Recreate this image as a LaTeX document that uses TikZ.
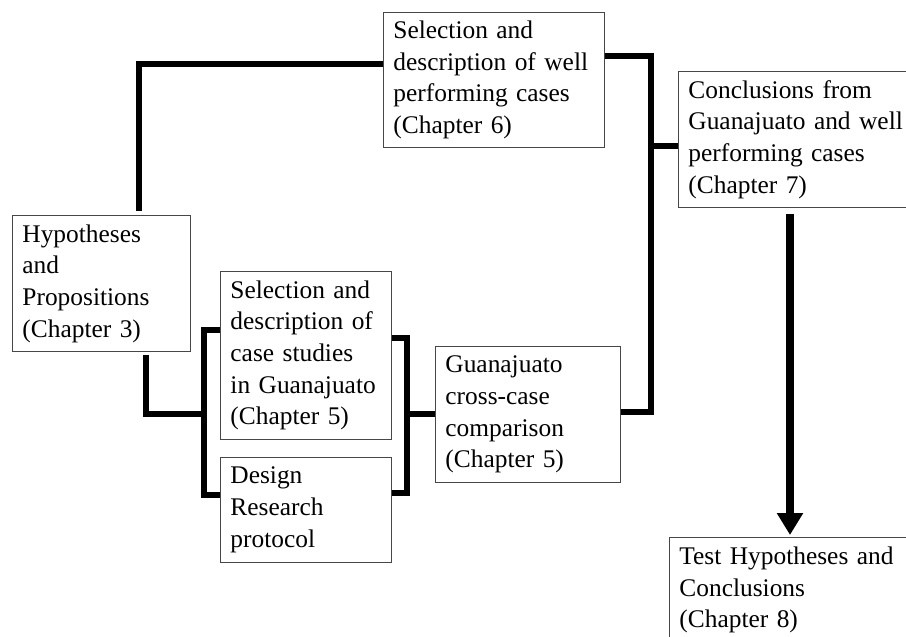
\documentclass[tikz,border=0pt]{standalone}
\usepackage{fontspec}
\setmainfont{Liberation Serif}
\usetikzlibrary{calc,arrows.meta}

\tikzset{
  box/.style={draw=black!72, line width=0.9pt, anchor=north west,
    inner xsep=10pt, inner ysep=3pt, align=left,
    font=\fontsize{25.4}{31.7}\selectfont},
  conn/.style={line width=5.6pt, line cap=butt, line join=miter, black},
  arr/.style={line width=8.5pt, black,
    -{Triangle[width=25pt,length=22pt]}},
}

\begin{document}
\begin{tikzpicture}[x=1pt,y=-1pt]
\useasboundingbox (0,0) rectangle (906,637);
\clip (0,0) rectangle (906,637);
\fill[white] (0,0) rectangle (906,637);

% boxes (position = top-left corner)
\node[box, text width=158pt, minimum height=136pt] (hyp) at (12,215)
  {Hypotheses\\and\\Propositions\\(Chapter 3)};
\node[box, text width=201pt, minimum height=135pt] (sel6) at (383,12)
  {Selection and\\description of well\\performing cases\\(Chapter 6)};
\node[box, text width=220pt, minimum height=136pt] (concl) at (678,71)
  {Conclusions from\\Guanajuato and well\\performing cases\\(Chapter 7)};
\node[box, text width=151pt, minimum height=168pt] (selc) at (220,271)
  {Selection and\\description of\\case studies\\in Guanajuato\\(Chapter 5)};
\node[box, text width=151pt, minimum height=105pt] (design) at (220,457)
  {Design\\Research\\protocol};
\node[box, text width=165pt, minimum height=136pt] (guan) at (435,346)
  {Guanajuato\\cross-case\\comparison\\(Chapter 5)};
\node[box, text width=230pt, minimum height=105pt] (test) at (669,537)
  {Test Hypotheses and\\Conclusions\\(Chapter 8)};

% junction points of the two brackets
\coordinate (lb) at ($(selc.south west)+(-16,-26)$);
\coordinate (rb) at ($(selc.south east)+(15,-26)$);
\coordinate (tb) at ($(concl.north west)+(-27,75)$);

% hypotheses -> well performing cases
\draw[conn] ($(hyp.north west)+(127,-4)$) |- ($(sel6.north west)+(0,52)$);

% well performing cases -> cross-case comparison, with branch to conclusions
\draw[conn] ($(sel6.north east)+(0,44)$) -| (tb)
  |- ($(guan.north east)+(0,66)$);
\draw[conn] (tb) -- (tb -| concl.west);

% hypotheses -> case study bracket
\draw[conn] ($(hyp.south west)+(134,3)$) |- (lb);
\draw[conn] ($(selc.north west)+(0,59)$) -| (lb)
  |- ($(design.north west)+(0,38)$);

% case study bracket -> cross-case comparison
\draw[conn] ($(selc.north east)+(0,67)$) -| (rb)
  |- ($(design.north east)+(0,36)$);
\draw[conn] (rb) -- (rb -| guan.west);

% conclusions -> test hypotheses
\draw[arr] ($(concl.south west)+(112,6)$) -- ($(test.north west)+(121,-2)$);
\end{tikzpicture}
\end{document}
